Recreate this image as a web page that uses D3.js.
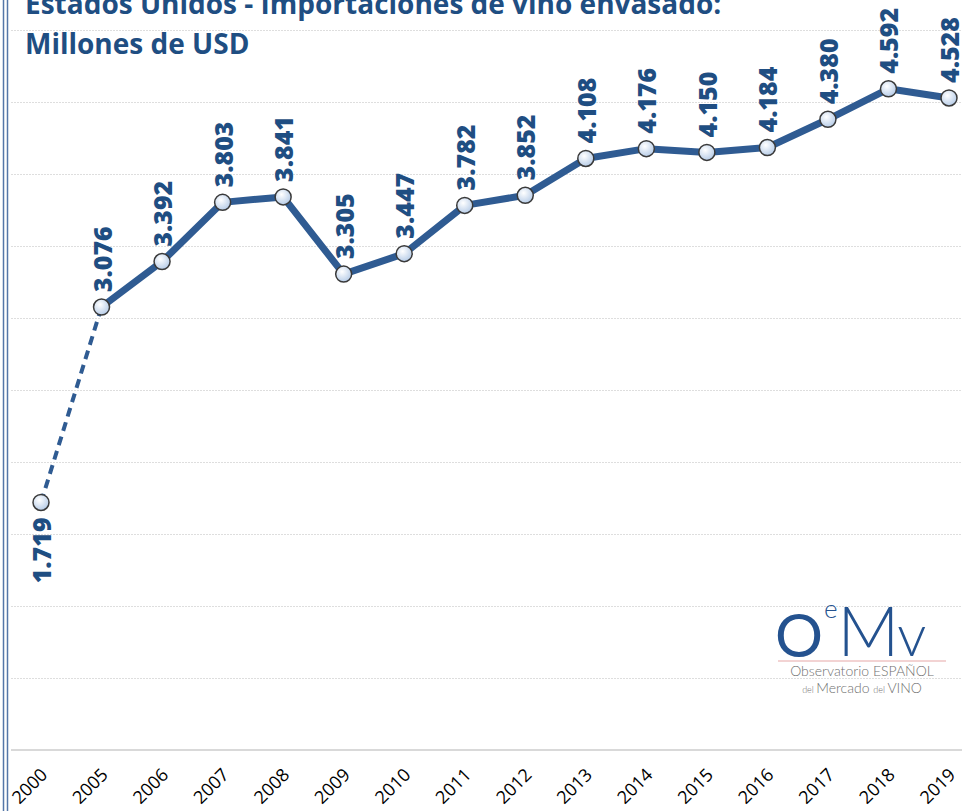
<!DOCTYPE html>
<html>
<head>
<meta charset="utf-8">
<script src="https://cdn.jsdelivr.net/npm/d3@7"></script>
<style>
  html, body { margin: 0; padding: 0; background: #ffffff; overflow: hidden; }
  svg { display: block; }
</style>
</head>
<body>
<svg id="mainsvg" width="962" height="811"></svg>
<script>
// data
const years = ['2000', '2005', '2006', '2007', '2008', '2009', '2010', '2011',
    '2012', '2013', '2014', '2015', '2016', '2017', '2018', '2019'];
const values = [1.719, 3.076, 3.392, 3.803, 3.841, 3.305, 3.447, 3.782,
    3.852, 4.108, 4.176, 4.150, 4.184, 4.380, 4.592, 4.528];
const gridTicks = [0, 0.5, 1, 1.5, 2, 2.5, 3, 3.5, 4, 4.5, 5];
const titleLines = ['Estados Unidos - Importaciones de vino envasado:', 'Millones de USD'];

const svg = d3.select('#mainsvg');
const width = +svg.attr('width');
const height = +svg.attr('height');

const data = years.map((y, i) => ({ year: y, value: values[i] }));

const lineColor = '#2f5b92';
const labelColor = '#1f4e82';
const fmt = d3.format('.3f');

// scales
const xScale = d3.scalePoint()
    .domain(years)
    .range([41, 949]);
const yScale = d3.scaleLinear()
    .domain([0, 5])
    .range([750, 30]);

// gradient for markers
const defs = svg.append('defs');
const grad = defs.append('radialGradient')
    .attr('id', 'markerGrad')
    .attr('cx', '40%').attr('cy', '35%').attr('r', '65%');
grad.append('stop').attr('offset', '0%').attr('stop-color', '#ffffff');
grad.append('stop').attr('offset', '100%').attr('stop-color', '#b8cde8');

// left frame (double line)
svg.append('line').attr('x1', 3.5).attr('x2', 3.5).attr('y1', 0).attr('y2', height)
    .attr('stroke', '#5577a8').attr('stroke-width', 1.5);
svg.append('line').attr('x1', 7.5).attr('x2', 7.5).attr('y1', 0).attr('y2', height)
    .attr('stroke', '#5577a8').attr('stroke-width', 1.5);

// gridlines
const yAxis = d3.axisLeft(yScale)
    .tickValues(gridTicks.filter(d => d > 0))
    .tickSize(-(width - 11))
    .tickFormat('');
const yAxisGroup = svg.append('g')
    .attr('transform', `translate(11, 0)`)
    .call(yAxis);
yAxisGroup.selectAll('.domain').remove();
yAxisGroup.selectAll('.tick line')
    .attr('stroke', '#dedede')
    .attr('stroke-width', 1)
    .attr('stroke-dasharray', '2,1');

// x axis
const xAxis = d3.axisBottom(xScale).tickSize(0).tickPadding(0);
const xAxisGroup = svg.append('g')
    .attr('transform', `translate(0, 750)`)
    .call(xAxis);
xAxisGroup.select('.domain')
    .attr('d', `M11,0H${width}`)
    .attr('stroke', '#d9d9d9')
    .attr('stroke-width', 2);
xAxisGroup.selectAll('.tick text')
    .attr('font-family', '"Open Sans", sans-serif')
    .attr('font-size', '18px')
    .attr('fill', '#000000')
    .attr('text-anchor', 'end')
    .attr('dy', 0)
    .attr('y', 0)
    .attr('transform', 'translate(7, 26) rotate(-45)');

// title
svg.append('g').selectAll('text')
    .data(titleLines)
    .join('text')
    .attr('x', 25)
    .attr('y', (d, i) => 14 + i * 40)
    .attr('font-family', '"Open Sans", sans-serif')
    .attr('font-weight', 'bold')
    .attr('font-size', '28px')
    .attr('fill', '#1f4e82')
    .text(d => d);

// line: first segment (2000 -> 2005) dashed, rest solid
const line = d3.line()
    .x(d => xScale(d.year))
    .y(d => yScale(d.value));

svg.append('path')
    .datum(data.slice(0, 2))
    .attr('d', line)
    .attr('fill', 'none')
    .attr('stroke', lineColor)
    .attr('stroke-width', 4)
    .attr('stroke-dasharray', '9,6');

svg.append('path')
    .datum(data.slice(1))
    .attr('d', line)
    .attr('fill', 'none')
    .attr('stroke', lineColor)
    .attr('stroke-width', 7)
    .attr('stroke-linejoin', 'round');

// markers
svg.append('g').selectAll('circle')
    .data(data)
    .join('circle')
    .attr('cx', d => xScale(d.year))
    .attr('cy', d => yScale(d.value))
    .attr('r', 8)
    .attr('fill', 'url(#markerGrad)')
    .attr('stroke', '#3a3a3a')
    .attr('stroke-width', 1.5);

// value labels (vertical)
svg.append('g').selectAll('text')
    .data(data)
    .join('text')
    .attr('transform', (d, i) => {
        const x = xScale(d.year) + 1;
        const y = i === 0 ? yScale(d.value) + 15 : yScale(d.value) - 15;
        return `translate(${x}, ${y}) rotate(-90)`;
    })
    .attr('text-anchor', (d, i) => i === 0 ? 'end' : 'start')
    .attr('dy', '0.36em')
    .attr('font-family', '"Open Sans", sans-serif')
    .attr('font-weight', 800)
    .attr('font-size', '25px')
    .attr('fill', labelColor)
    .text(d => fmt(d.value));

// OeMv logo (one text per block so the pieces sit together)
const logo = svg.append('g').attr('font-family', 'Lato, "Open Sans", sans-serif');
const mark = logo.append('text').attr('x', 775).attr('y', 657).attr('fill', '#24528f');
mark.append('tspan').attr('font-size', '60px').attr('font-weight', 400).text('O');
mark.append('tspan').attr('font-size', '26px').attr('font-weight', 300)
    .attr('dx', 1).attr('dy', -39).text('e');
mark.append('tspan').attr('font-size', '68px').attr('font-weight', 300)
    .attr('dx', 0).attr('dy', 38).text('M');
mark.append('tspan').attr('font-size', '58px').attr('font-weight', 300)
    .attr('dx', -2).text('v');
logo.append('line').attr('x1', 778).attr('x2', 946).attr('y1', 661).attr('y2', 661)
    .attr('stroke', '#e6a7a7').attr('stroke-width', 1);
logo.append('text').attr('x', 862).attr('y', 676)
    .attr('text-anchor', 'middle')
    .attr('font-size', '14px').attr('font-weight', 300).attr('fill', '#707070')
    .text('Observatorio ESPAÑOL');
const sub = logo.append('text').attr('x', 862).attr('y', 693)
    .attr('text-anchor', 'middle')
    .attr('font-size', '14px').attr('font-weight', 300).attr('fill', '#707070');
sub.append('tspan').attr('font-size', '9px').text('del ');
sub.append('tspan').text('Mercado ');
sub.append('tspan').attr('font-size', '9px').text('del ');
sub.append('tspan').text('VINO');
</script>
</body>
</html>
